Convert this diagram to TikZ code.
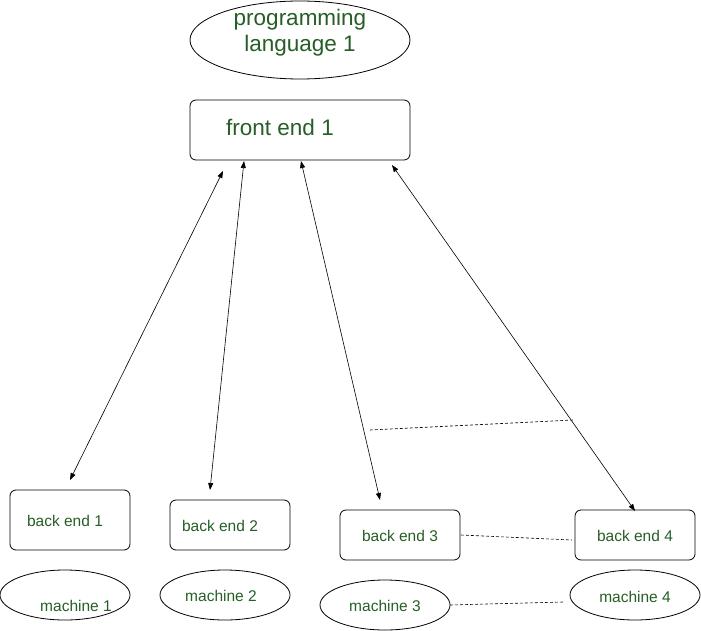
\documentclass[tikz,border=0pt]{standalone}
\usepackage{fontspec}
\setmainfont{Liberation Sans}
\usetikzlibrary{arrows.meta}
\definecolor{txtgreen}{RGB}{38,94,38}
\tikzset{
  box/.style={draw, rounded corners=6pt, line width=0.8pt, inner sep=0pt},
  lbl/.style={text=txtgreen, font=\fontsize{15.5}{18}\selectfont, inner sep=0pt},
  biglbl/.style={text=txtgreen, font=\fontsize{22.5}{26}\selectfont, inner sep=0pt, align=center},
  link/.style={line width=0.6pt, {Triangle[length=7pt,width=5pt]}-{Triangle[length=7pt,width=5pt]}},
  dotline/.style={line width=0.6pt, dash pattern=on 3pt off 2pt}
}
\begin{document}
\begin{tikzpicture}[x=1pt,y=-1pt]
\useasboundingbox (0,0) rectangle (701,631);
% programming language
\draw[line width=0.8pt] (300,40) ellipse [x radius=110, y radius=39];
\node[biglbl] (pl) at (300,33) {programming\\language 1};
% front end
\draw[box] (190,100) rectangle (410,160);
\node[biglbl] (fe) at (280,127) {front end 1};
% back ends
\draw[box] (10,490) rectangle (130,550);
\node[lbl] (be1) at (65,521) {back end 1};
\draw[box] (170,500) rectangle (290,550);
\node[lbl] (be2) at (220,526) {back end 2};
\draw[box] (340,510) rectangle (460,560);
\node[lbl] (be3) at (400,536) {back end 3};
\draw[box] (575,510) rectangle (695,560);
\node[lbl] (be4) at (635,536) {back end 4};
% machines
\draw[line width=0.8pt] (65,595) ellipse [x radius=65, y radius=25];
\node[lbl] (m1) at (76,606) {machine 1};
\draw[line width=0.8pt] (225,595) ellipse [x radius=65, y radius=25];
\node[lbl] (m2) at (221,596) {machine 2};
\draw[line width=0.8pt] (385,605) ellipse [x radius=65, y radius=25];
\node[lbl] (m3) at (385,606) {machine 3};
\draw[line width=0.8pt] (635,595) ellipse [x radius=65, y radius=25];
\node[lbl] (m4) at (635,597) {machine 4};
% connector endpoints
\coordinate (a1) at (223,171);
\coordinate (b1) at (70,480);
\coordinate (a2) at (244,161);
\coordinate (b2) at (210,490);
\coordinate (a3) at (301,161);
\coordinate (b3) at (380,500);
\coordinate (a4) at (392,165);
\coordinate (b4) at (635,511);
\draw[link] (a1) -- (b1);
\draw[link] (a2) -- (b2);
\draw[link] (a3) -- (b3);
\draw[link] (a4) -- (b4);
% dashed
\coordinate (d1) at (370,430);
\coordinate (d2) at (573,420);
\draw[dotline] (d1) -- (d2);
\coordinate (d3) at (461,535);
\coordinate (d4) at (572,540);
\draw[dotline] (d3) -- (d4);
\coordinate (d5) at (450,605);
\coordinate (d6) at (563,602);
\draw[dotline] (d5) -- (d6);
\end{tikzpicture}
\end{document}
